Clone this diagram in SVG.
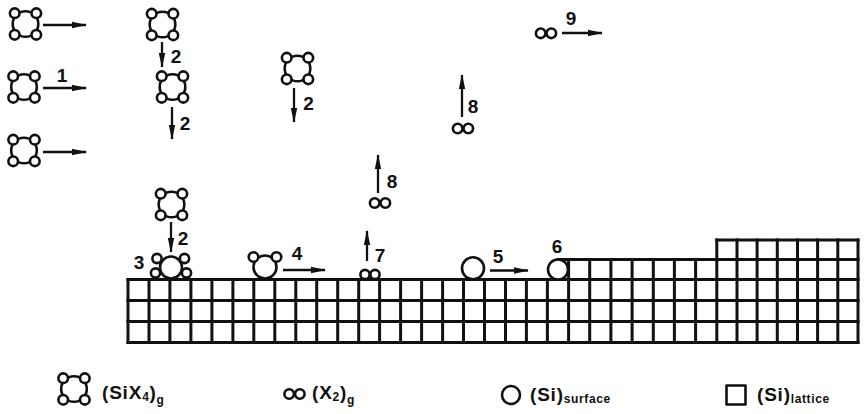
<svg xmlns="http://www.w3.org/2000/svg" xmlns:xlink="http://www.w3.org/1999/xlink" width="865" height="414" viewBox="0 0 865 414">
  <style>
    .ln { fill: none; stroke: #111; stroke-width: 2.6; stroke-linecap: round; stroke-linejoin: round; }
    .grid { fill: none; stroke: #111; stroke-width: 3; stroke-linecap: square; }
    .ar { fill: none; stroke: #111; stroke-width: 2.3; marker-end: url(#ah); }
    .num { font-family: "Liberation Sans", Arial, sans-serif; font-weight: bold; font-size: 19px; fill: #111; text-anchor: middle; }
    .lg { font-family: "Liberation Sans", Arial, sans-serif; font-weight: bold; font-size: 19px; fill: #111; letter-spacing: 0.8px; }
    .sub { font-size: 12px; letter-spacing: 0.6px; }
  </style>
  <defs>
    <marker id="ah" viewBox="0 0 15 8" refX="14" refY="4" markerWidth="15" markerHeight="8" orient="auto" markerUnits="userSpaceOnUse">
      <path d="M0,0.8 L15,4 L0,7.2 Z" fill="#111"/>
    </marker>
    <!-- SiX4 molecule: central Si ring with four X atoms on the diagonals -->
    <g id="six4" class="ln">
      <circle cx="0" cy="0" r="12.8" fill="#fff"/>
      <circle cx="-10.8" cy="-10.8" r="4.8" fill="#fff"/>
      <circle cx="10.8" cy="-10.8" r="4.8" fill="#fff"/>
      <circle cx="-10.8" cy="10.8" r="4.8" fill="#fff"/>
      <circle cx="10.8" cy="10.8" r="4.8" fill="#fff"/>
    </g>
    <!-- X2 molecule -->
    <g id="x2" class="ln">
      <circle cx="-5.3" cy="0" r="4.8" fill="#fff"/>
      <circle cx="5.3" cy="0" r="4.8" fill="#fff"/>
    </g>
  </defs>

  <!-- crystal lattice with a step -->
  <g id="lattice" class="grid">
    <path d="M128,342.5 H858 M128,321.5 H858 M128,300.5 H858 M128,279.5 H858 M558,259.5 H858 M716.8,240 H858"/>
    <path d="M128,279.5 V342.5 M149,279.5 V342.5 M169.9,279.5 V342.5 M190.9,279.5 V342.5 M211.9,279.5 V342.5 M232.9,279.5 V342.5 M253.8,279.5 V342.5 M274.8,279.5 V342.5 M295.8,279.5 V342.5 M316.7,279.5 V342.5 M337.7,279.5 V342.5 M358.7,279.5 V342.5 M379.6,279.5 V342.5 M400.6,279.5 V342.5 M421.6,279.5 V342.5 M442.6,279.5 V342.5 M463.5,279.5 V342.5 M484.5,279.5 V342.5 M505.5,279.5 V342.5 M526.4,279.5 V342.5 M547.4,279.5 V342.5"/>
    <path d="M568.6,259.5 V342.5 M589.7,259.5 V342.5 M610.9,259.5 V342.5 M632.1,259.5 V342.5 M653.3,259.5 V342.5 M674.4,259.5 V342.5 M695.6,259.5 V342.5"/>
    <path d="M716.8,240 V342.5 M737,240 V342.5 M757.1,240 V342.5 M777.3,240 V342.5 M797.5,240 V342.5 M817.6,240 V342.5 M837.8,240 V342.5 M858,240 V342.5"/>
  </g>

  <!-- surface species -->
  <g id="site3" class="ln">
    <circle cx="171" cy="267.5" r="11" fill="#fff"/>
    <circle cx="157" cy="258.5" r="4.6" fill="#fff"/>
    <circle cx="184.5" cy="258.5" r="4.6" fill="#fff"/>
    <circle cx="155.5" cy="273" r="4.6" fill="#fff"/>
    <circle cx="186.5" cy="273" r="4.6" fill="#fff"/>
  </g>
  <g id="site4" class="ln">
    <circle cx="265" cy="267" r="11.5" fill="#fff"/>
    <circle cx="253.5" cy="257" r="4.8" fill="#fff"/>
    <circle cx="276.5" cy="257" r="4.8" fill="#fff"/>
  </g>
  <g id="site7" class="ln">
    <circle cx="365" cy="274.5" r="4.6" fill="#fff"/>
    <circle cx="375" cy="274.5" r="4.6" fill="#fff"/>
  </g>
  <g id="site5" class="ln">
    <circle cx="473" cy="268.3" r="11" fill="#fff"/>
  </g>
  <g id="site6" class="ln">
    <circle cx="558" cy="269.5" r="10" fill="#fff"/>
  </g>

  <!-- gas-phase molecules -->
  <g id="m1"><use xlink:href="#six4" x="25.5" y="24"/></g>
  <g id="m2"><use xlink:href="#six4" x="24" y="87"/></g>
  <g id="m3"><use xlink:href="#six4" x="24" y="150.5"/></g>
  <g id="m4"><use xlink:href="#six4" x="162.5" y="24.5"/></g>
  <g id="m5"><use xlink:href="#six4" x="172.5" y="87"/></g>
  <g id="m6"><use xlink:href="#six4" x="297.5" y="68.5"/></g>
  <g id="m7"><use xlink:href="#six4" x="171.5" y="204.5"/></g>
  <g id="x2a"><use xlink:href="#x2" x="380" y="203"/></g>
  <g id="x2b"><use xlink:href="#x2" x="463" y="128.5"/></g>
  <g id="x2c"><use xlink:href="#x2" x="546" y="33.3"/></g>

  <!-- process arrows -->
  <g id="connectors">
    <path class="ar" d="M43,25 H86"/>
    <path class="ar" d="M43,88 H86"/>
    <path class="ar" d="M43,152 H86"/>
    <path class="ar" d="M162,42 V67"/>
    <path class="ar" d="M172,107 V139"/>
    <path class="ar" d="M294,88 V122"/>
    <path class="ar" d="M171,222 V252"/>
    <path class="ar" d="M283,270 H325"/>
    <path class="ar" d="M367,261 V231"/>
    <path class="ar" d="M378,193 V155"/>
    <path class="ar" d="M462,117 V75"/>
    <path class="ar" d="M490,270.5 H528"/>
    <path class="ar" d="M562,33 H602"/>
  </g>

  <!-- step labels -->
  <g id="labels">
    <text class="num" x="62" y="82">1</text>
    <text class="num" x="176" y="63">2</text>
    <text class="num" x="185" y="130">2</text>
    <text class="num" x="308.5" y="110">2</text>
    <text class="num" x="183" y="245">2</text>
    <text class="num" x="139" y="269">3</text>
    <text class="num" x="297" y="260">4</text>
    <text class="num" x="498" y="263">5</text>
    <text class="num" x="557" y="253">6</text>
    <text class="num" x="380" y="262">7</text>
    <text class="num" x="392" y="188">8</text>
    <text class="num" x="473" y="113">8</text>
    <text class="num" x="571" y="25">9</text>
  </g>

  <!-- legend -->
  <g id="legend-six4">
    <use xlink:href="#six4" x="74" y="389"/>
    <text class="lg" x="102" y="399">(SiX<tspan class="sub" dy="2">4</tspan><tspan dy="-2">)</tspan><tspan class="sub" dy="5">g</tspan></text>
  </g>
  <g id="legend-x2">
    <use xlink:href="#x2" x="294.5" y="394"/>
    <text class="lg" x="312" y="399">(X<tspan class="sub" dy="2">2</tspan><tspan dy="-2">)</tspan><tspan class="sub" dy="5">g</tspan></text>
  </g>
  <g id="legend-surface">
    <circle class="ln" cx="511" cy="395" r="9" fill="#fff"/>
    <text class="lg" x="530" y="401">(Si)<tspan class="sub" dy="2">surface</tspan></text>
  </g>
  <g id="legend-lattice">
    <rect class="ln" x="726.5" y="385.5" width="19" height="19" fill="#fff"/>
    <text class="lg" x="757" y="401">(Si)<tspan class="sub" dy="2">lattice</tspan></text>
  </g>
</svg>
